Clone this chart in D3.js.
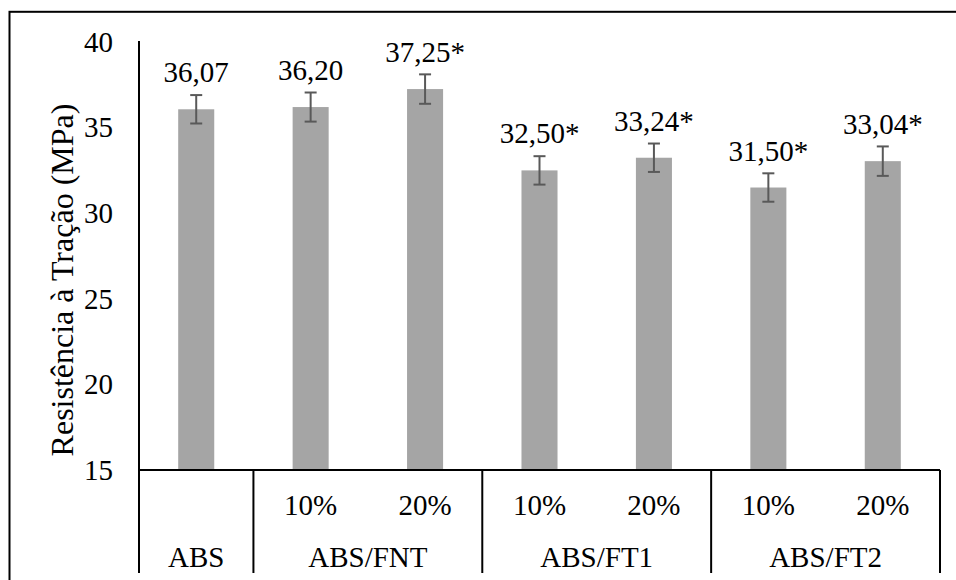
<!DOCTYPE html>
<html lang="pt">
<head>
  <meta charset="UTF-8">
  <title>Resistência à Tração</title>
  <script src="https://d3js.org/d3.v7.min.js"></script>
  <style>
    body { margin: 0; background: #fff; }
  </style>
</head>
<body>
  <svg id="chart" width="956" height="580"></svg>

  <script>
    // dados
    const groups = ["ABS", "ABS/FNT", "ABS/FT1", "ABS/FT2"];
    const groupOf = [0, 1, 1, 2, 2, 3, 3];
    const subLabels = ["", "10%", "20%", "10%", "20%", "10%", "20%"];
    const values = [36.07, 36.20, 37.25, 32.50, 33.24, 31.50, 33.04];
    const errors = [0.83, 0.85, 0.86, 0.83, 0.83, 0.83, 0.86];
    const signif = [false, false, true, true, true, true, true];
    const yTicks = [15, 20, 25, 30, 35, 40];

    const FONT = '"Liberation Serif", "Times New Roman", serif';

    const svg = d3.select("#chart");
    const margin = { top: 42, right: 16, bottom: 110, left: 139 };
    const W = +svg.attr("width"), H = +svg.attr("height");
    const x0 = margin.left, x1 = W - margin.right;
    const yTop = margin.top, yBase = H - margin.bottom;

    const idx = values.map((d, i) => i);

    const x = d3.scaleBand()
      .domain(idx)
      .range([x0, x1])
      .paddingInner(0.685)
      .paddingOuter(0.3425);

    const y = d3.scaleLinear()
      .domain([15, 40])
      .range([yBase, yTop]);

    // moldura externa
    svg.append("rect")
      .attr("x", 9.5).attr("y", 11.8)
      .attr("width", 1000).attr("height", 1000)
      .attr("fill", "none")
      .attr("stroke", "#000")
      .attr("stroke-width", 2);

    // eixo Y
    const yAxis = svg.append("g")
      .attr("transform", `translate(${x0},0)`)
      .call(d3.axisLeft(y).tickValues(yTicks).tickSize(0).tickPadding(26).tickFormat(d3.format("d")));
    yAxis.attr("font-family", null).attr("font-size", null);
    yAxis.selectAll(".tick text")
      .style("font-family", FONT)
      .style("font-size", "29px")
      .attr("fill", "#000");
    yAxis.select(".domain").attr("stroke", "#000").attr("stroke-width", 2)
      .attr("d", `M0,${yTop - 1}V${yBase}`);

    // barras
    svg.selectAll(".bar")
      .data(idx)
      .enter()
      .append("rect")
      .attr("class", "bar")
      .attr("x", i => x(i))
      .attr("width", x.bandwidth())
      .attr("y", i => y(values[i]))
      .attr("height", i => yBase - y(values[i]))
      .attr("fill", "#a5a5a5");

    // barras de erro
    const capW = 12;
    const cx = i => x(i) + x.bandwidth() / 2;
    const eb = svg.selectAll(".err")
      .data(idx)
      .enter()
      .append("g")
      .attr("class", "err")
      .attr("stroke", "#595959")
      .attr("stroke-width", 2);
    eb.append("line")
      .attr("x1", cx).attr("x2", cx)
      .attr("y1", i => y(values[i] + errors[i]))
      .attr("y2", i => y(values[i] - errors[i]));
    eb.append("line")
      .attr("x1", i => cx(i) - capW / 2)
      .attr("x2", i => cx(i) + capW / 2)
      .attr("y1", i => y(values[i] + errors[i]))
      .attr("y2", i => y(values[i] + errors[i]));
    eb.append("line")
      .attr("x1", i => cx(i) - capW / 2)
      .attr("x2", i => cx(i) + capW / 2)
      .attr("y1", i => y(values[i] - errors[i]))
      .attr("y2", i => y(values[i] - errors[i]));

    // rótulos de dados
    const fmt = v => v.toFixed(2).replace(".", ",");
    svg.selectAll(".val")
      .data(idx)
      .enter()
      .append("text")
      .attr("class", "val")
      .attr("x", cx)
      .attr("y", i => y(values[i]) - 27)
      .attr("text-anchor", "middle")
      .style("font-family", FONT)
      .style("font-size", "29px")
      .text(i => fmt(values[i]) + (signif[i] ? "*" : ""));

    // eixo X (linha base e categorias em dois níveis)
    svg.append("line")
      .attr("x1", x0).attr("x2", x1)
      .attr("y1", yBase).attr("y2", yBase)
      .attr("stroke", "#000").attr("stroke-width", 2);

    const bandW = (x1 - x0) / values.length;
    const bandLeft = i => x0 + i * bandW;

    const groupSpans = groups.map((g, gi) => {
      const members = idx.filter(i => groupOf[i] === gi);
      return { name: g, start: d3.min(members), end: d3.max(members) + 1 };
    });

    const seps = [0].concat(groupSpans.map(s => s.end));
    svg.selectAll(".sep")
      .data(seps)
      .enter()
      .append("line")
      .attr("x1", s => bandLeft(s)).attr("x2", s => bandLeft(s))
      .attr("y1", yBase).attr("y2", 573)
      .attr("stroke", "#000").attr("stroke-width", 2);

    svg.selectAll(".sub")
      .data(idx)
      .enter()
      .append("text")
      .attr("class", "sub")
      .attr("x", cx)
      .attr("y", 515)
      .attr("text-anchor", "middle")
      .style("font-family", FONT)
      .style("font-size", "29px")
      .text(i => subLabels[i]);

    svg.selectAll(".grp")
      .data(groupSpans)
      .enter()
      .append("text")
      .attr("class", "grp")
      .attr("x", s => bandLeft(s.start) + (s.end - s.start) * bandW / 2)
      .attr("y", 567)
      .attr("text-anchor", "middle")
      .style("font-family", FONT)
      .style("font-size", "29px")
      .text(s => s.name);

    // título do eixo Y
    svg.append("text")
      .attr("transform", `translate(73, ${280}) rotate(-90)`)
      .attr("text-anchor", "middle")
      .style("font-family", FONT)
      .style("font-size", "32px")
      .text("Resistência à Tração (MPa)");
  </script>
</body>
</html>
